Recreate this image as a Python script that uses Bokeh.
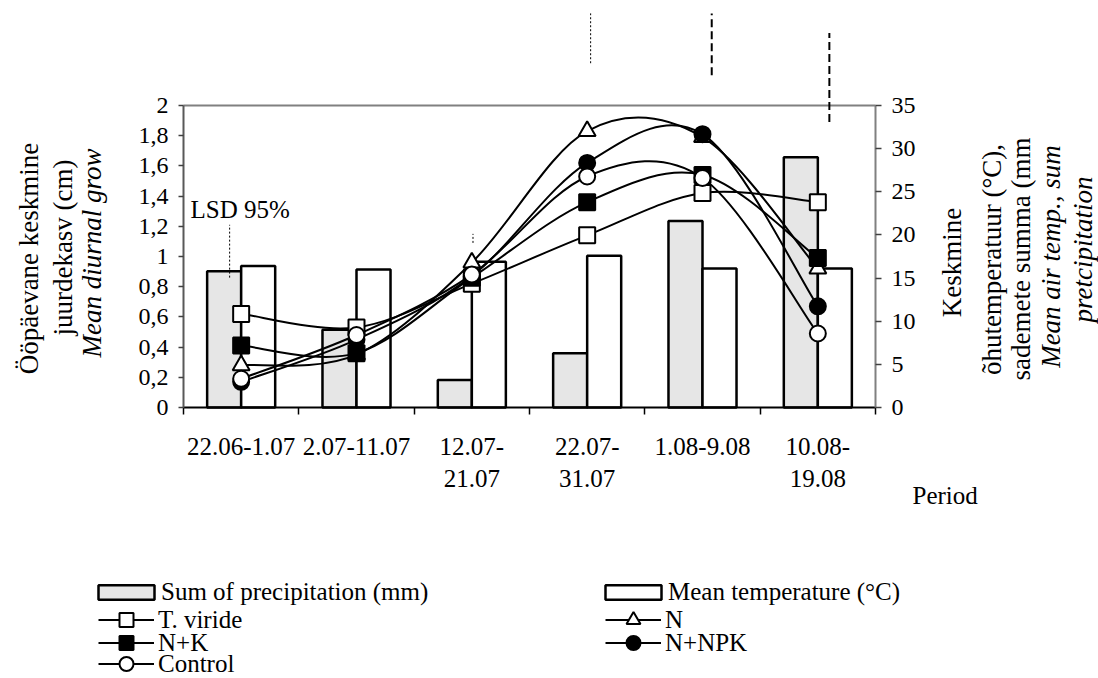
import numpy as np
from bokeh.plotting import figure
from bokeh.models import (Range1d, LinearAxis, FixedTicker, CustomJSTickFormatter,
                          Label, Legend, LegendItem, ColumnDataSource)
from bokeh.embed import file_html
from bokeh.resources import INLINE

# ---------------- data ----------------
periods = ["22.06-1.07", "2.07-11.07", "12.07-\n21.07", "22.07-\n31.07", "1.08-9.08", "10.08-\n19.08"]
precipitation = [15.8, 9.0, 3.2, 6.3, 21.6, 29.0]      # mm (right axis)
temperature = [16.4, 16.0, 16.9, 17.6, 16.1, 16.1]     # deg C (right axis)
t_viride = [0.62, 0.53, 0.82, 1.14, 1.42, 1.36]
n_only = [0.28, 0.35, 0.96, 1.83, 1.79, 0.92]
n_k = [0.41, 0.36, 0.86, 1.36, 1.54, 0.99]
n_npk = [0.17, 0.45, 0.87, 1.62, 1.81, 0.67]
control = [0.19, 0.48, 0.88, 1.53, 1.52, 0.49]
lsd_x = [0.40, 2.51, 3.53, 4.58, 5.60]
lsd_low = [0.86, 1.09, 2.28, 2.20, 1.89]
lsd_high = [1.21, 1.15, 2.61, 2.61, 2.48]
left_ticks = [0, 0.2, 0.4, 0.6, 0.8, 1.0, 1.2, 1.4, 1.6, 1.8, 2.0]
right_ticks = [0, 5, 10, 15, 20, 25, 30, 35]

# ---------------- layout ----------------
W, H = 1098, 678
X0, X1, Y0 = 183, 875, 407     # plot-area left/right/bottom (px)
PXX = (X1 - X0) / 6.0
PXY = 151.0
RATIO = 35 / 2.0
FONT = "Liberation Serif"

def px(xp):  # canvas x -> data x
    return (xp - X0) / PXX

def py(yp):  # canvas y -> data y
    return (Y0 - yp) / PXY

p = figure(width=W, height=H, x_range=Range1d(px(0), px(W)), y_range=Range1d(py(H), py(0)),
           output_backend="svg", toolbar_location=None,
           x_axis_location=None, y_axis_location=None,
           min_border_left=0, min_border_right=0, min_border_top=0, min_border_bottom=0)
p.outline_line_color = None
p.xgrid.visible = False
p.ygrid.visible = False
p.background_fill_color = "white"
p.border_fill_color = "white"
p.extra_y_ranges = {"temp": Range1d(py(H) * RATIO, py(0) * RATIO)}

n = len(periods)
centers = [i + 0.5 for i in range(n)]
bounds = [float(i) for i in range(n + 1)]
bw = 0.295

# bars
prec_r = p.vbar(x=[c - bw / 2 for c in centers], top=precipitation, width=bw, bottom=0,
                y_range_name="temp", fill_color="#e6e6e6", line_color="black", line_width=2.5)
temp_r = p.vbar(x=[c + bw / 2 for c in centers], top=temperature, width=bw, bottom=0,
                y_range_name="temp", fill_color="white", line_color="black", line_width=2.5)

# top border of the plot area
p.segment(x0=[0], y0=[left_ticks[-1]], x1=[n], y1=[left_ticks[-1]], line_color="#808080", line_width=2)

# smoothed curves (Excel-like Catmull-Rom bezier)
def bez(xs, ys):
    xs = np.asarray(xs, float); ys = np.asarray(ys, float)
    m = len(xs)
    ex = np.concatenate([[xs[0]], xs, [xs[-1]]])
    ey = np.concatenate([[ys[0]], ys, [ys[-1]]])
    d = dict(x0=ex[1:m], y0=ey[1:m], x1=ex[2:m + 1], y1=ey[2:m + 1],
             cx0=ex[1:m] + (ex[2:m + 1] - ex[0:m - 1]) / 6,
             cy0=ey[1:m] + (ey[2:m + 1] - ey[0:m - 1]) / 6,
             cx1=ex[2:m + 1] - (ex[3:m + 2] - ex[1:m]) / 6,
             cy1=ey[2:m + 1] - (ey[3:m + 2] - ey[1:m]) / 6)
    return ColumnDataSource(d)

series = [("T. viride", t_viride, "square", "white", 16),
          ("N", n_only, "triangle", "white", 17),
          ("N+K", n_k, "square", "black", 16),
          ("N+NPK", n_npk, "circle", "black", 16),
          ("Control", control, "circle", "white", 16)]

line_r = {}
for name, vals, mk, fc, sz in series:
    p.bezier(x0="x0", y0="y0", x1="x1", y1="y1", cx0="cx0", cy0="cy0", cx1="cx1", cy1="cy1",
             source=bez(centers, vals), line_color="black", line_width=2)
    # single-point line: invisible in the plot, gives the legend its line sample
    line_r[name] = p.line(x=centers[:1], y=vals[:1], line_color="black", line_width=2)

marker_r = {}
for name, vals, mk, fc, sz in series:
    marker_r[name] = p.scatter(x=centers, y=vals, marker=mk, size=sz, fill_color=fc,
                               line_color="black", line_width=2)

# LSD bars
for i in range(len(lsd_x)):
    thick = i >= 3
    p.segment(x0=[lsd_x[i]], y0=[lsd_low[i]], x1=[lsd_x[i]], y1=[lsd_high[i]],
              line_color="black", line_width=2 if thick else 1,
              line_dash="8 4" if thick else "2 2")

p.add_layout(Label(x=px(190), y=py(209), text="LSD 95%", text_font=FONT, text_font_size="25px",
                   text_color="black", text_align="left", text_baseline="alphabetic"))

# axes (drawn at fixed data locations so the frame can hold all texts)
xaxis = LinearAxis(ticker=FixedTicker(ticks=centers, minor_ticks=bounds), fixed_location=0,
                   bounds=(0, n), major_label_overrides={c: lab for c, lab in zip(centers, periods)})
xaxis.axis_line_color = "black"
xaxis.axis_line_width = 2
xaxis.major_tick_out = 0
xaxis.major_tick_in = 0
xaxis.minor_tick_out = 7
xaxis.minor_tick_in = 0
xaxis.minor_tick_line_color = "black"
xaxis.minor_tick_line_width = 1.5
xaxis.major_label_standoff = 18
xaxis.major_label_text_font = FONT
xaxis.major_label_text_font_size = "25px"
xaxis.major_label_text_color = "black"
p.add_layout(xaxis, "below")

yaxis = LinearAxis(ticker=FixedTicker(ticks=left_ticks), bounds=(0, 2), fixed_location=0,
                   formatter=CustomJSTickFormatter(code="return tick.toFixed(1).replace('.', ',').replace(/,0$/, '');"))
yaxis.axis_line_color = "#595959"
yaxis.axis_line_width = 2
yaxis.major_tick_out = 5
yaxis.major_tick_in = 0
yaxis.major_tick_line_color = "#404040"
yaxis.major_tick_line_width = 1.5
yaxis.minor_tick_line_color = None
yaxis.major_label_standoff = 10
yaxis.major_label_text_font = FONT
yaxis.major_label_text_font_size = "24px"
yaxis.major_label_text_color = "black"
p.add_layout(yaxis, "left")

raxis = LinearAxis(y_range_name="temp", ticker=FixedTicker(ticks=right_ticks), bounds=(0, 35),
                   fixed_location=n)
raxis.axis_line_color = "#808080"
raxis.axis_line_width = 2
raxis.major_tick_out = 6
raxis.major_tick_in = 0
raxis.major_tick_line_color = "#404040"
raxis.major_tick_line_width = 1.5
raxis.minor_tick_line_color = None
raxis.major_label_standoff = 10
raxis.major_label_text_font = FONT
raxis.major_label_text_font_size = "24px"
raxis.major_label_text_color = "black"
p.add_layout(raxis, "right")

# axis titles
def vlabel(xp, yp, text, italic=False, align="center"):
    p.add_layout(Label(x=px(xp), y=py(yp), text=text, angle=np.pi / 2, text_font=FONT,
                       text_font_size="27px", text_align=align, text_baseline="middle",
                       text_color="black", text_font_style="italic" if italic else "normal"))

vlabel(28, 258, "Ööpäevane keskmine")
vlabel(62, 247, "juurdekasv (cm)")
vlabel(91, 357, "Mean diurnal grow", italic=True, align="left")
vlabel(951, 262, "Keskmine")
vlabel(991, 259, "õhutemperatuur (°C),")
vlabel(1020, 380, "sademete summa (mm", align="left")
vlabel(1050, 256, "Mean air temp., sum", italic=True)
vlabel(1082, 249, "pretcipitation", italic=True)

p.add_layout(Label(x=px(912), y=py(495), text="Period", text_font=FONT, text_font_size="25px",
                   text_color="black", text_align="left", text_baseline="middle"))

# legend
def add_legend(items, xp, yp_center, gw, gh, standoff):
    leg = Legend(items=items, location=(int(xp), int(H - yp_center - gh / 2)),
                 glyph_width=gw, glyph_height=gh, label_standoff=standoff, padding=0, margin=0,
                 spacing=0, border_line_color=None, background_fill_alpha=0,
                 label_text_font=FONT, label_text_font_size="25px", label_text_color="black")
    p.add_layout(leg)

add_legend([LegendItem(label="Sum of precipitation (mm)", renderers=[prec_r])], 91, 597, 70, 18, 0)
add_legend([LegendItem(label="Mean temperature (°C)", renderers=[temp_r])], 598, 597, 70, 18, 0)
rows = {"T. viride": (98, 619), "N": (605, 619), "N+K": (98, 642), "N+NPK": (605, 642), "Control": (98, 664)}
for name, (xl, yc) in rows.items():
    add_legend([LegendItem(label=name, renderers=[line_r[name], marker_r[name]])], xl, yc, 56, 35, 4)

open("out.html", "w").write(file_html(p, INLINE))
